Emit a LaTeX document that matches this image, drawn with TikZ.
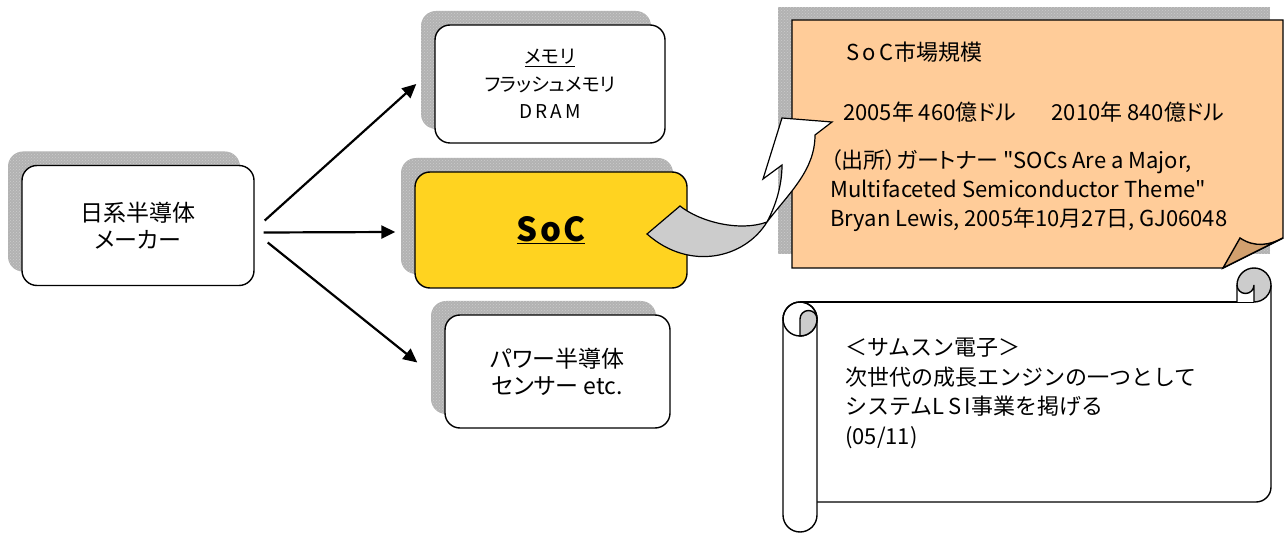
\documentclass[tikz,border=0pt]{standalone}
\usepackage{fontspec}
\setmainfont{Noto Sans CJK JP}[RawFeature=+palt,Ligatures=TeXOff]
\newfontfamily\jpmono{Noto Sans CJK JP}[Ligatures=TeXOff]
\usepackage{tikz}
\usetikzlibrary{arrows.meta,positioning,calc,patterns,shadows}
\definecolor{socgold}{HTML}{FFD320}
\definecolor{infoorange}{HTML}{FFCC99}
\definecolor{infofold}{HTML}{D2A06E}
\definecolor{shadowgrey}{HTML}{B2B2B2}
\definecolor{curlgrey}{HTML}{CCCCCC}

\begin{document}
\begin{tikzpicture}[x=1pt,y=-1pt,
  shadowfill/.style={fill=shadowgrey,postaction={pattern=crosshatch dots,pattern color=white!80!black}},
  box/.style={draw=black,line width=1.4pt,fill=white,rounded corners=15pt,align=center,
              font=\fontsize{23}{27}\selectfont,
              general shadow={shadow xshift=-14pt,shadow yshift=14pt,shadowfill}},
  arr/.style={-{Triangle[length=14pt,width=13pt]},line width=2.2pt},
  rim/.style={draw=black,line width=1.4pt},
  txt/.style={inner sep=0pt,align=left,font=\fontsize{22}{29}\selectfont}]
  \useasboundingbox (0,0) rectangle (1284,534);

  % maker and the three product fields
  \node[box,minimum width=232pt,minimum height=120pt] (maker) at (138,225.5) {日系半導体\\メーカー};
  \node[box,minimum width=230pt,minimum height=118pt,font=\fontsize{19}{27.5}\selectfont] (mem) at (550,84)
       {\underline{メモリ}\\フラッシュメモリ\\D\,R\,A\,M};
  \node[box,fill=socgold,minimum width=272pt,minimum height=116pt,font=\bfseries\fontsize{33}{36}\selectfont] (soc) at (551,230)
       {\underline{S\kern2pt o\kern2pt C}};
  \node[box,minimum width=225pt,minimum height=113pt] (power) at (557.5,371.5) {パワー半導体\\センサー etc.};

  \draw[arr] ($(maker.east)+(10,-5)$) -- ($(mem.west)+(-18,0)$);
  \draw[arr] ($(maker.east)+(9,7)$) -- ($(soc.west)+(-19,2)$);
  \draw[arr] ($(maker.east)+(13,17)$) -- ($(power.west)+(-27,-9)$);

  % market note with folded corner
  \fill[shadowfill] (778,7) rectangle (1270,254);
  \path[rim,fill=infoorange] (792,20) -- (1283,20) -- (1283,238) -- (1223,268) -- (792,268) -- cycle;
  \path[rim,fill=infofold] (1223,268) -- (1240,238) .. controls (1255,248) and (1270,245) .. (1283,238) -- cycle;

  \node[txt,anchor=west] (title) at (846,52) {S\,o\,C市場規模};
  \node[txt,anchor=west] (figs) at (843,112) {2005年 460億ドル\hspace{36pt}2010年 840億ドル};
  \node[txt,anchor=north west] (src) at (830,149)
       {（出所）ガートナー "SOCs Are a Major,\\Multifaceted Semiconductor Theme"\\Bryan Lewis, 2005年10月27日, GJ06048};

  % curved callout from the SoC box
  \path[rim,line width=1.2pt,fill=curlgrey] (647,234) -- (680,206) .. controls (700,222) and (740,232) .. (767,222)
       .. controls (745,258) and (690,272) .. cycle;
  \path[rim,line width=1.2pt,fill=white] (767,222) .. controls (776,205) and (782,185) .. (782,165) -- (763,179)
       -- (782,118) -- (832,122) -- (815,135) .. controls (815,170) and (790,192) .. cycle;

  % scroll: body
  \fill[white] (800,302) -- (1271,302) -- (1271,487) arc[start angle=0,end angle=90,radius=15]
       -- (817,502) -- (817,319) -- cycle;
  \draw[line width=1.4pt] (800,302) -- (1254,302);
  \draw[line width=1.4pt] (1271,285) -- (1271,487) arc[start angle=0,end angle=90,radius=15] -- (817,502);
  % scroll: left roll
  \path[rim,fill=white] (783,319) -- (783,515) arc[start angle=180,end angle=0,radius=17] -- (817,319)
       arc[start angle=0,end angle=-180,radius=17] -- cycle;
  \draw[line width=1.4pt] (800,319) circle[radius=17];
  \path[rim,fill=curlgrey] (800,336) -- (800,319) arc[start angle=180,end angle=360,radius=8.5]
       arc[start angle=0,end angle=90,radius=17] -- cycle;
  % scroll: right roll
  \fill[curlgrey] (1254,285) circle[radius=17];
  \fill[white] (1237,285) arc[start angle=180,end angle=0,radius=8.5] -- (1254,302) -- (1237,302) -- cycle;
  \draw[line width=1.4pt] (1237,302) -- (1237,285) arc[start angle=180,end angle=450,radius=17];
  \draw[line width=1.4pt] (1237,285) arc[start angle=180,end angle=0,radius=8.5] -- (1254,302);

  \node[txt,anchor=north west,font=\jpmono\fontsize{22}{29.5}\selectfont] (samsung) at (845,338)
       {＜サムスン電子＞\\次世代の成長エンジンの一つとして\\システムL\,S\,I事業を掲げる\\(05/11)};
\end{tikzpicture}
\end{document}
